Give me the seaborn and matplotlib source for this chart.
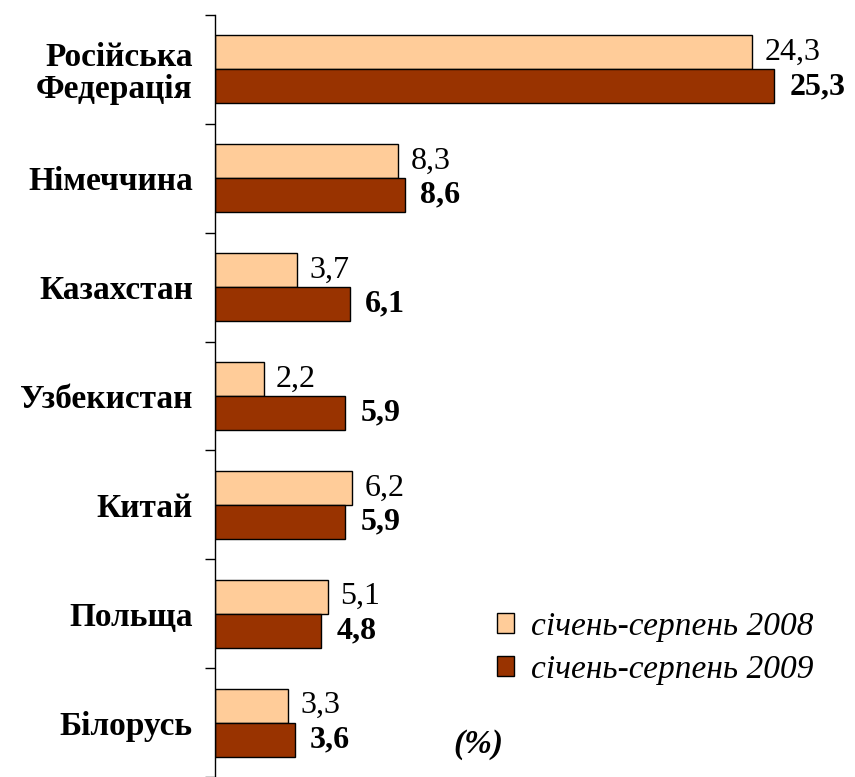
import matplotlib
matplotlib.use("Agg")
import matplotlib.pyplot as plt
import seaborn as sns
import pandas as pd
from matplotlib.ticker import FixedLocator

countries = ["Російська\nФедерація", "Німеччина", "Казахстан", "Узбекистан", "Китай", "Польща", "Білорусь"]
values_2008 = [24.3, 8.3, 3.7, 2.2, 6.2, 5.1, 3.3]
values_2009 = [25.3, 8.6, 6.1, 5.9, 5.9, 4.8, 3.6]
periods = ["січень-серпень 2008", "січень-серпень 2009"]
colors = ["#FFCC99", "#993300"]

df = pd.DataFrame({
    "country": countries * 2,
    "value": values_2008 + values_2009,
    "period": [periods[0]] * len(countries) + [periods[1]] * len(countries),
})

sns.set_style("white")
plt.rcParams["font.family"] = ["Liberation Serif", "DejaVu Serif"]
plt.rcParams["text.color"] = "black"
plt.rcParams["ytick.color"] = "black"
plt.rcParams["ytick.labelcolor"] = "black"
plt.rcParams["axes.edgecolor"] = "black"

fig = plt.figure(figsize=(8.55, 7.77), dpi=100)
ax = fig.add_axes([215 / 855, 0, (855 - 215) / 855, (777 - 15) / 777])

sns.barplot(data=df, y="country", x="value", hue="period", orient="h",
            palette=colors, width=0.625, edgecolor="black", linewidth=1,
            saturation=1, ax=ax, legend=True)

ax.set_xlim(0, (855 - 215) / 22.1)
ax.set_ylim(6.5, -0.5)
ax.set_xlabel("")
ax.set_ylabel("")
for s in ["top", "right", "bottom"]:
    ax.spines[s].set_visible(False)
ax.spines["left"].set_color("black")
ax.spines["left"].set_linewidth(1)
ax.set_xticks([])

ax.tick_params(axis="y", which="major", length=0, pad=16)
ax.yaxis.set_minor_locator(FixedLocator([i - 0.5 for i in range(len(countries) + 1)]))
ax.tick_params(axis="y", which="minor", length=7, width=1, color="black", left=True)
for lab in ax.get_yticklabels():
    lab.set_fontweight("bold")
    lab.set_fontsize(24)
    lab.set_linespacing(1.05)
    lab.set_color("black")

for cont, bold in zip(ax.containers, [False, True]):
    for bar in cont:
        w = bar.get_width()
        yc = bar.get_y() + bar.get_height() / 2
        ax.annotate(f"{w:.1f}".replace(".", ","), xy=(w, yc),
                    xytext=(11 if bold else 9, 0),
                    textcoords="offset points", va="center", ha="left",
                    fontsize=23, fontweight="bold" if bold else "normal",
                    color="black")

handles, labels = ax.get_legend_handles_labels()
ax.legend(handles, labels, loc="center left", bbox_to_anchor=(497 / 855, 1 - 648 / 777),
          bbox_transform=fig.transFigure, frameon=False, borderpad=0, borderaxespad=0,
          prop={"family": "Liberation Serif", "style": "italic", "size": 24},
          handlelength=0.52, handleheight=0.52, handletextpad=0.5, labelspacing=0.38)

fig.text(453 / 855, 1 - 745 / 777, "(%)", fontsize=24, fontstyle="italic",
         fontweight="bold", va="center", ha="left")

fig.savefig("out.png", dpi=100)
